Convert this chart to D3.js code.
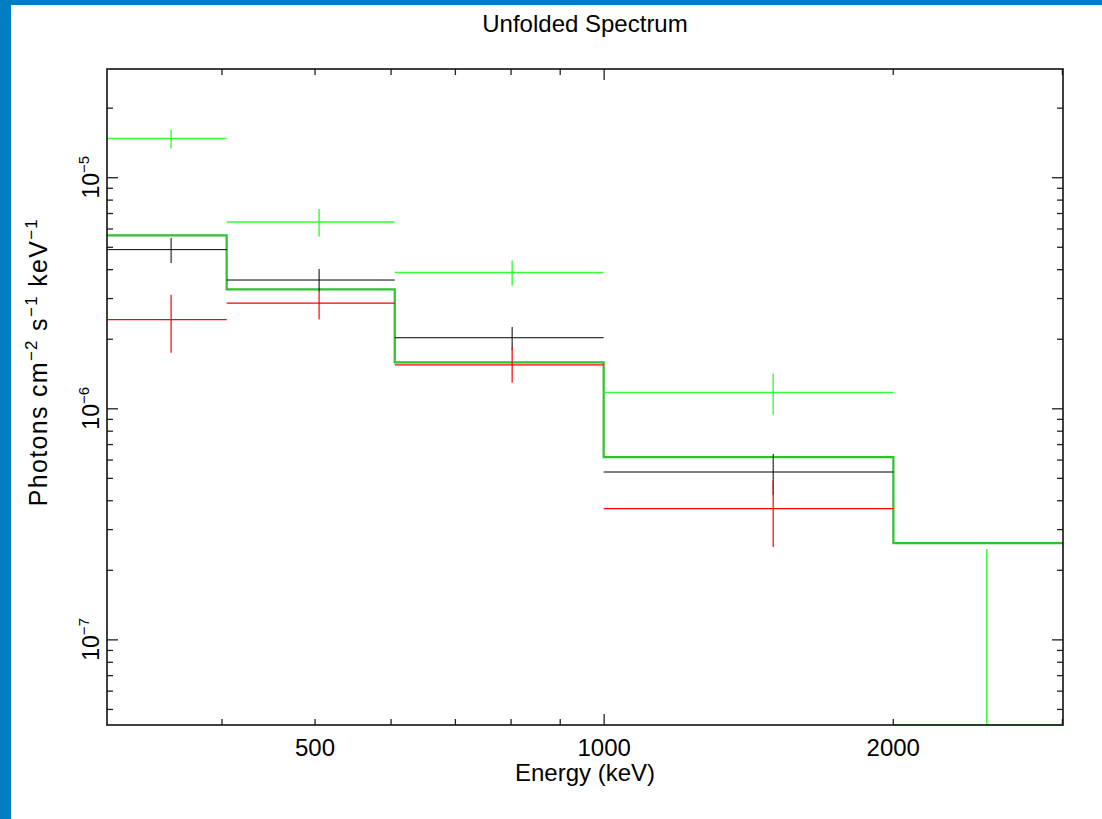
<!DOCTYPE html>
<html>
<head>
<meta charset="utf-8">
<script src="https://cdn.jsdelivr.net/npm/d3@7"></script>
<style>
  body { margin: 0; background: #fff; }
  svg { display: block; }
  text { font-family: "Liberation Sans", Arial, sans-serif; fill: #000; }
</style>
</head>
<body>
<div id="chart"></div>
<script>
// bins (keV)
var binLo = [304, 405, 606, 1000, 2003];
var binHi = [405, 606, 1000, 2003, 3008];
var binMid = [354.5, 505.5, 803, 1501.5, 2505.5];

// data groups: value, lower, upper (photons cm-2 s-1 keV-1)
var blackVal = [4.86e-6, 3.59e-6, 2.02e-6, 5.30e-7];
var blackLo  = [4.25e-6, 3.19e-6, 1.79e-6, 4.22e-7];
var blackHi  = [5.46e-6, 4.01e-6, 2.25e-6, 6.35e-7];

var redVal = [2.42e-6, 2.85e-6, 1.54e-6, 3.68e-7];
var redLo  = [1.74e-6, 2.42e-6, 1.29e-6, 2.51e-7];
var redHi  = [3.10e-6, 3.20e-6, 1.83e-6, 4.87e-7];

var greenVal = [1.47e-5, 6.40e-6, 3.87e-6, 1.17e-6, 0];
var greenLo  = [1.33e-5, 5.54e-6, 3.39e-6, 9.37e-7, 0];
var greenHi  = [1.61e-5, 7.28e-6, 4.36e-6, 1.41e-6, 2.46e-7];

// folded model (step)
var modelVal = [5.60e-6, 3.27e-6, 1.58e-6, 6.15e-7, 2.61e-7];

var xMajor = [1000];
var xMinor = [400, 500, 600, 700, 800, 900, 2000, 3000];
var xLabels = [500, 1000, 2000];
var yMajor = [1e-5, 1e-6, 1e-7];
var yMinor = [2e-5,
  9e-6, 8e-6, 7e-6, 6e-6, 5e-6, 4e-6, 3e-6, 2e-6,
  9e-7, 8e-7, 7e-7, 6e-7, 5e-7, 4e-7, 3e-7, 2e-7,
  9e-8, 8e-8, 7e-8, 6e-8, 5e-8];
var yLabelExp = ['5', '6', '7'];

var W = 1102, H = 819;
var pLeft = 107, pRight = 1063, pTop = 69, pBottom = 725;
var yMin = 4.26e-8, yMax = 2.94e-5;

var svg = d3.select('#chart').append('svg').attr('width', W).attr('height', H);

svg.append('rect').attr('width', W).attr('height', H).attr('fill', '#fff');
// blue frame
svg.append('rect').attr('x', 0).attr('y', 0).attr('width', W).attr('height', 5).attr('fill', '#007ec2');
svg.append('rect').attr('x', 0).attr('y', 0).attr('width', 11).attr('height', H).attr('fill', '#007ec2');

var x = d3.scaleLog().domain([binLo[0], binHi[binHi.length - 1]]).range([pLeft, pRight]);
var y = d3.scaleLog().domain([yMin, yMax]).range([pBottom, pTop]);
function yc(v) { return y(Math.max(v, yMin)); }

var plot = svg.append('g');

function drawGroup(vals, lo, hi, color, w) {
    vals.forEach(function(v, i) {
        plot.append('line')
            .attr('x1', x(binLo[i])).attr('x2', x(binHi[i]))
            .attr('y1', yc(v)).attr('y2', yc(v))
            .attr('stroke', color).attr('stroke-width', w);
        plot.append('line')
            .attr('x1', x(binMid[i])).attr('x2', x(binMid[i]))
            .attr('y1', yc(lo[i])).attr('y2', yc(hi[i]))
            .attr('stroke', color).attr('stroke-width', w);
    });
}

// model step
var stepPts = [];
modelVal.forEach(function(v, i) {
    stepPts.push([x(binLo[i]), y(v)]);
    stepPts.push([x(binHi[i]), y(v)]);
});
plot.append('path')
    .attr('d', d3.line()(stepPts))
    .attr('fill', 'none')
    .attr('stroke', '#2cc22c')
    .attr('stroke-width', 2.2);

drawGroup(blackVal, blackLo, blackHi, '#000', 1);
drawGroup(redVal, redLo, redHi, '#ff0000', 1.2);
drawGroup(greenVal, greenLo, greenHi, '#33ff33', 1.4);

// axes (ticks pointing inward on all four sides)
function noLabel(a) { return a.tickFormat(''); }
var axes = svg.append('g');
axes.append('g').attr('transform', 'translate(0,' + pBottom + ')')
    .call(noLabel(d3.axisBottom(x).tickValues(xMajor).tickSizeInner(-11).tickSizeOuter(0)));
axes.append('g').attr('transform', 'translate(0,' + pBottom + ')')
    .call(noLabel(d3.axisBottom(x).tickValues(xMinor).tickSizeInner(-6).tickSizeOuter(0)));
axes.append('g').attr('transform', 'translate(0,' + pTop + ')')
    .call(noLabel(d3.axisTop(x).tickValues(xMajor).tickSizeInner(-11).tickSizeOuter(0)));
axes.append('g').attr('transform', 'translate(0,' + pTop + ')')
    .call(noLabel(d3.axisTop(x).tickValues(xMinor).tickSizeInner(-6).tickSizeOuter(0)));
axes.append('g').attr('transform', 'translate(' + pLeft + ',0)')
    .call(noLabel(d3.axisLeft(y).tickValues(yMajor).tickSizeInner(-11).tickSizeOuter(0)));
axes.append('g').attr('transform', 'translate(' + pLeft + ',0)')
    .call(noLabel(d3.axisLeft(y).tickValues(yMinor).tickSizeInner(-6).tickSizeOuter(0)));
axes.append('g').attr('transform', 'translate(' + pRight + ',0)')
    .call(noLabel(d3.axisRight(y).tickValues(yMajor).tickSizeInner(-11).tickSizeOuter(0)));
axes.append('g').attr('transform', 'translate(' + pRight + ',0)')
    .call(noLabel(d3.axisRight(y).tickValues(yMinor).tickSizeInner(-6).tickSizeOuter(0)));
axes.selectAll('.domain').remove();
axes.selectAll('line').attr('stroke', '#222').attr('stroke-width', 1.3);

svg.append('rect')
    .attr('x', pLeft).attr('y', pTop)
    .attr('width', pRight - pLeft).attr('height', pBottom - pTop)
    .attr('fill', 'none').attr('stroke', '#111').attr('stroke-width', 1.6);

// x tick labels
var xl = d3.axisBottom(x).tickValues(xLabels).tickSize(0).tickPadding(14).tickFormat(d3.format('d'));
var xlg = svg.append('g').attr('transform', 'translate(0,' + pBottom + ')').call(xl);
xlg.select('.domain').remove();
xlg.selectAll('text').attr('font-size', 24).attr('font-family', '"Liberation Sans", Arial, sans-serif').attr('fill', '#000');

// y tick labels (rotated, with exponent)
yMajor.forEach(function(v, i) {
    var t = svg.append('text')
        .attr('transform', 'translate(99,' + y(v) + ') rotate(-90)')
        .attr('text-anchor', 'middle')
        .attr('font-size', 23);
    t.append('tspan').text('10');
    t.append('tspan').attr('dy', -10).attr('font-size', 15).text('\u2212' + yLabelExp[i]);
});

// title and axis labels
svg.append('text').attr('x', (pLeft + pRight) / 2).attr('y', 32)
    .attr('text-anchor', 'middle').attr('font-size', 24).text('Unfolded Spectrum');
svg.append('text').attr('x', (pLeft + pRight) / 2).attr('y', 781)
    .attr('text-anchor', 'middle').attr('font-size', 24).text('Energy (keV)');

var yl = svg.append('text')
    .attr('transform', 'translate(47,362) rotate(-90)')
    .attr('text-anchor', 'middle')
    .attr('font-size', 25)
    .attr('letter-spacing', 1.3);
yl.append('tspan').text('Photons cm');
yl.append('tspan').attr('dy', -10).attr('font-size', 17).text('\u22122');
yl.append('tspan').attr('dy', 10).text(' s');
yl.append('tspan').attr('dy', -10).attr('font-size', 17).text('\u22121');
yl.append('tspan').attr('dy', 10).text(' keV');
yl.append('tspan').attr('dy', -10).attr('font-size', 17).text('\u22121');
</script>
</body>
</html>
